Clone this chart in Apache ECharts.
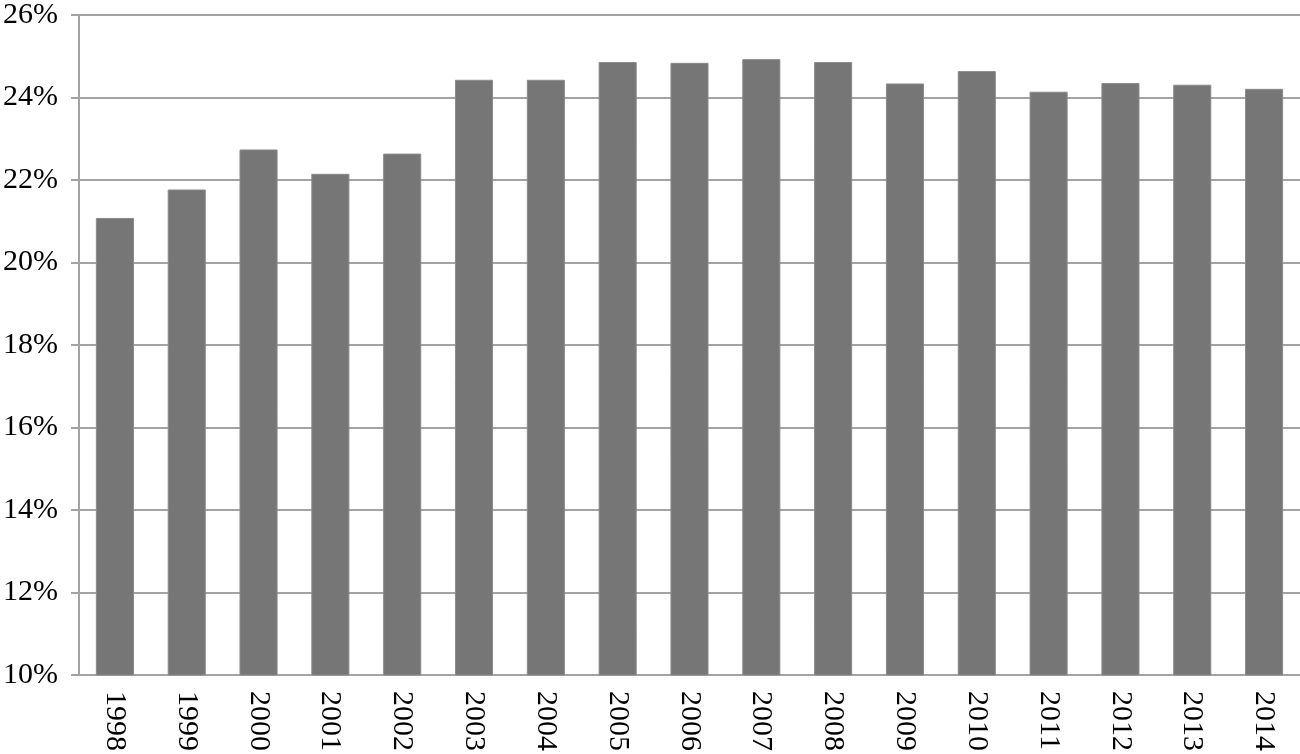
<!DOCTYPE html>
<html>
<head>
<meta charset="utf-8">
<script src="https://cdn.jsdelivr.net/npm/echarts@6/dist/echarts.min.js"></script>
<style>html,body{margin:0;padding:0;background:#fff;}#c{width:1300px;height:754px;}</style>
</head>
<body>
<div id="c"></div>
<script>
const years = ['1998','1999','2000','2001','2002','2003','2004','2005','2006','2007','2008','2009','2010','2011','2012','2013','2014'];
const shares = [21.08, 21.77, 22.74, 22.15, 22.64, 24.43, 24.43, 24.86, 24.84, 24.93, 24.86, 24.34, 24.64, 24.14, 24.35, 24.31, 24.21];
const yMin = 10, yMax = 26, yStep = 2;

const chart = echarts.init(document.getElementById('c'));
const font = '"Liberation Serif", "Times New Roman", serif';
chart.setOption({
  animation: false,
  grid: { left: 78, right: 0, top: 15, bottom: 77, containLabel: false },
  xAxis: {
    type: 'category',
    data: years,
    axisLine: { show: true, lineStyle: { color: '#a3a3a3', width: 2 } },
    axisTick: { show: false },
    axisLabel: { rotate: -90, margin: 16, color: '#000', fontFamily: font, fontSize: 30 },
    splitLine: { show: false }
  },
  yAxis: {
    type: 'value',
    min: yMin, max: yMax, interval: yStep,
    axisLine: { show: true, lineStyle: { color: '#a3a3a3', width: 2 } },
    axisTick: { show: true, length: 8, lineStyle: { color: '#a3a3a3', width: 2 } },
    axisLabel: { formatter: '{value}%', margin: 21, color: '#000', fontFamily: font, fontSize: 30 },
    splitLine: { show: true, lineStyle: { color: '#a3a3a3', width: 2 } }
  },
  series: [{
    type: 'bar',
    data: shares,
    barCategoryGap: '47%',
    itemStyle: { color: '#767676', borderColor: '#8a8a8a', borderWidth: 1 }
  }]
});
</script>
</body>
</html>
